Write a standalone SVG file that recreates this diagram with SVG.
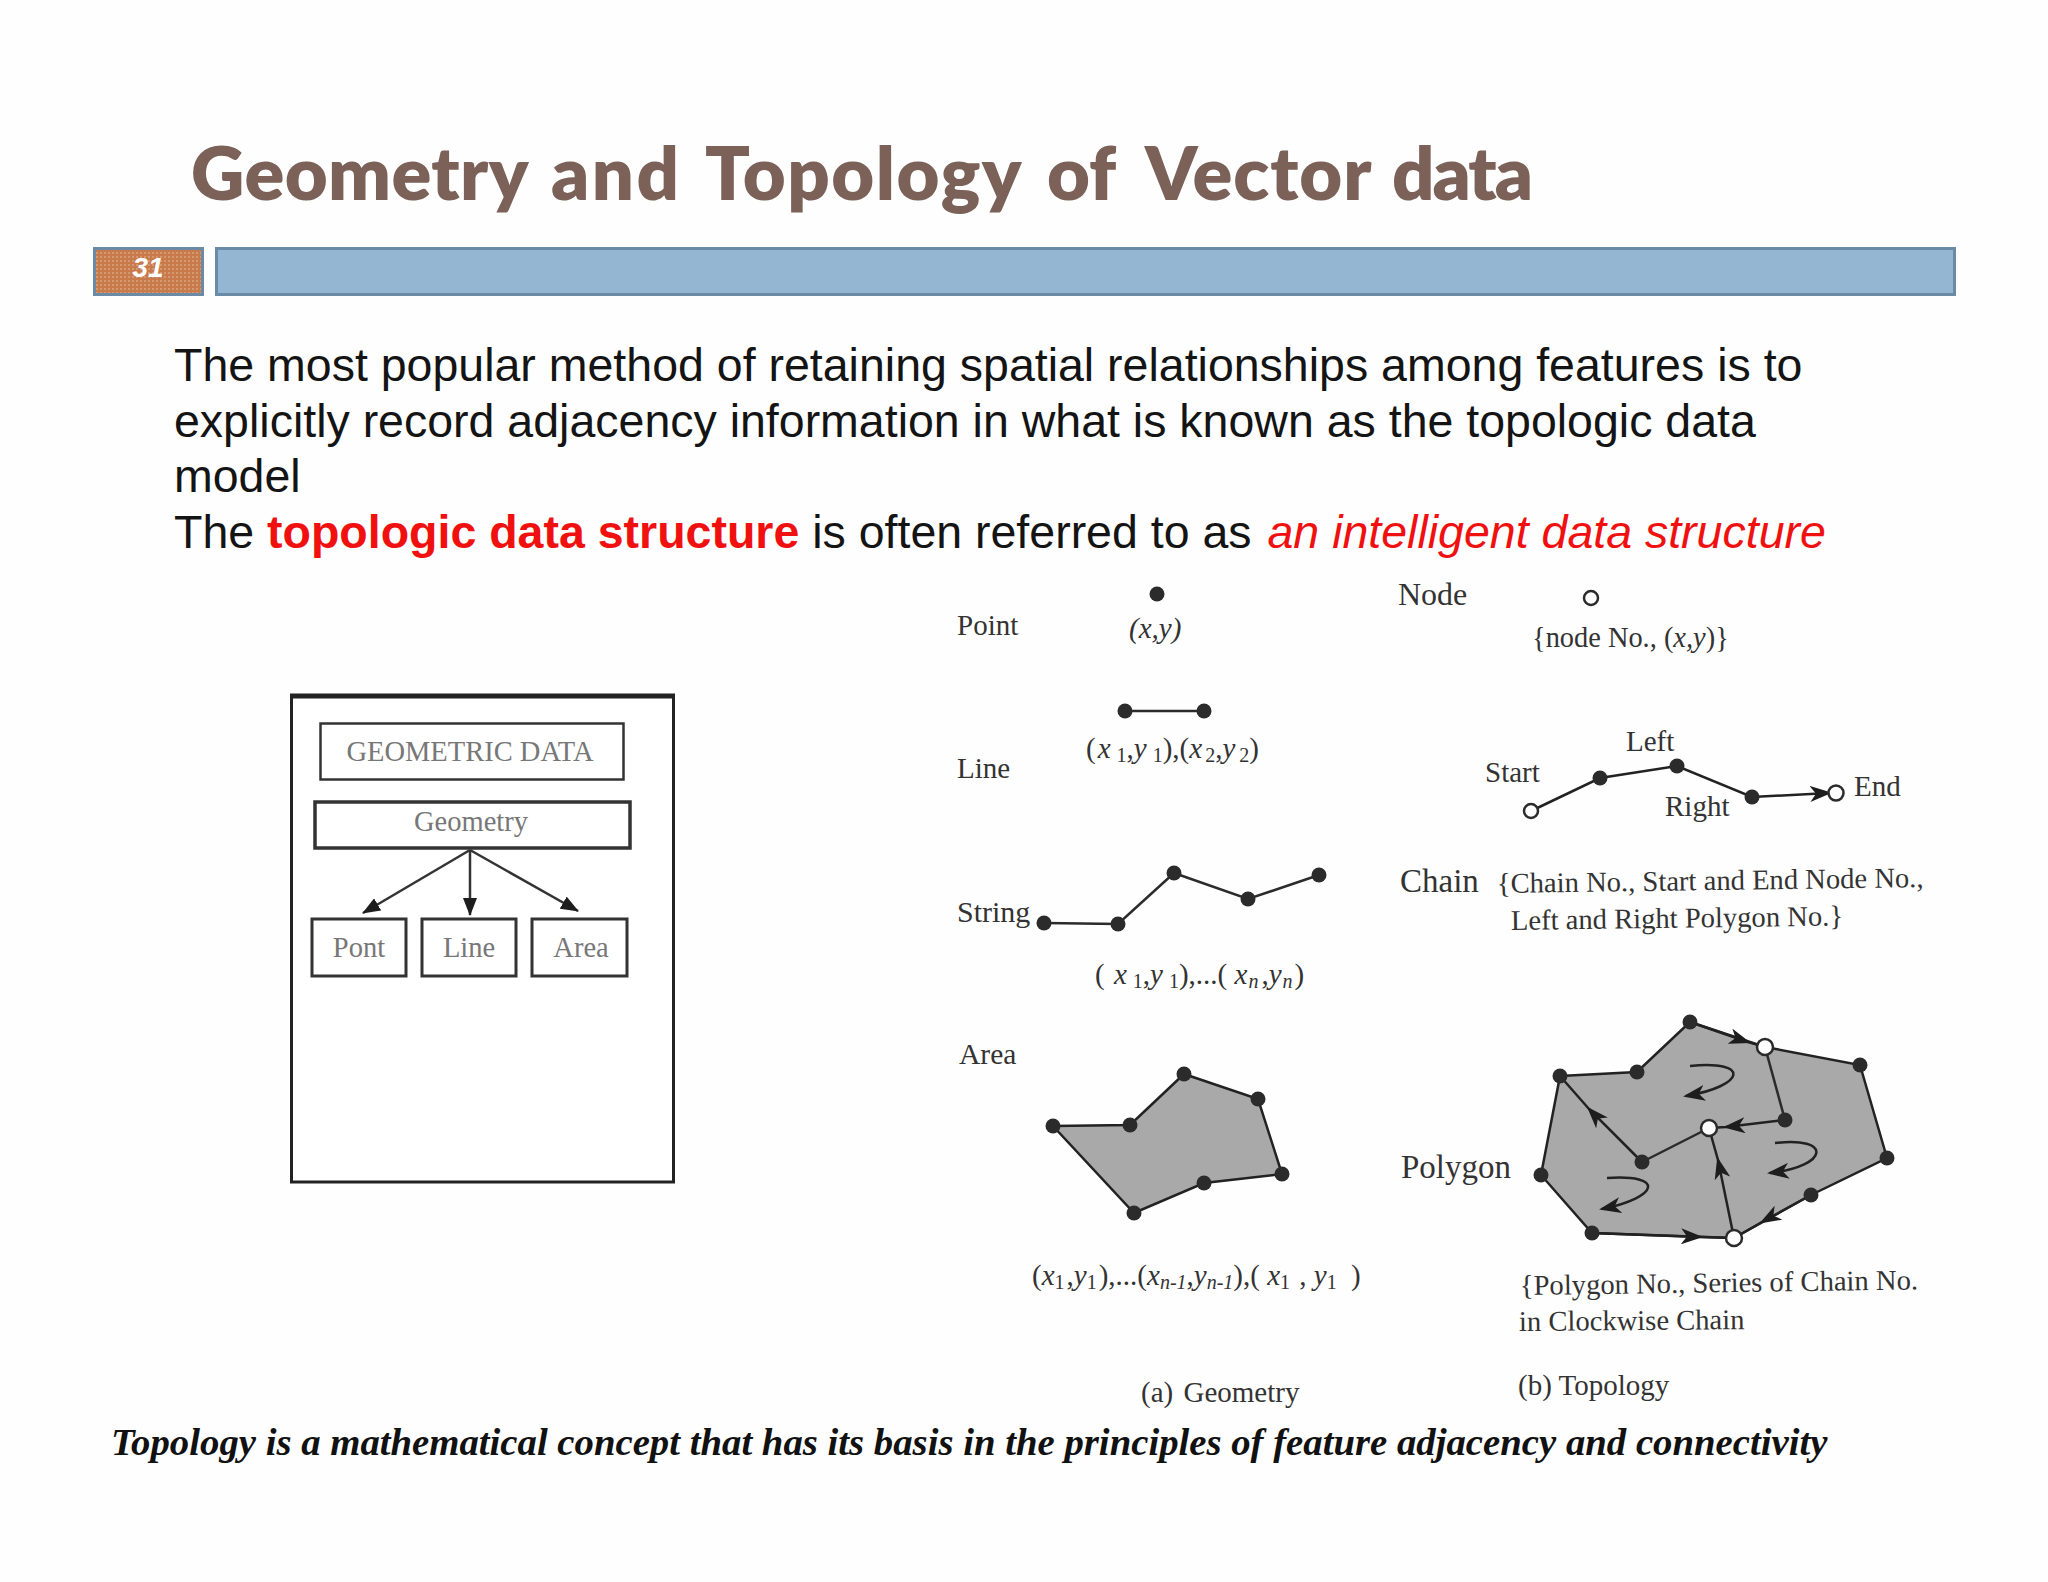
<svg xmlns="http://www.w3.org/2000/svg" width="2048" height="1582" viewBox="0 0 2048 1582">
<style>
.body{font-family:"Liberation Sans",Arial,sans-serif;font-size:46.5px;fill:#141414}
.t{font-family:"Liberation Serif","Times New Roman",serif;font-size:29px;fill:#333}
.b{font-size:33px}
.n{font-size:28.6px}
.i{font-style:italic}
.s{font-size:20px}
.bx{fill:#fff;stroke:#333}
.g{font-family:"Liberation Serif","Times New Roman",serif;font-size:28.5px;fill:#777;text-anchor:middle}
.d{fill:#2b2b2b}
.o{fill:#fff;stroke:#2b2b2b;stroke-width:2.5}
.w{fill:#fff;stroke:#2b2b2b;stroke-width:2.5}
.e{fill:none;stroke:#2b2b2b;stroke-width:2.5}
.a{fill:none;stroke:#222;stroke-width:2.5;marker-mid:url(#st)}
.c{fill:none;stroke:#222;stroke-width:2.5;marker-end:url(#st)}
.p{fill:#a9a9a9;stroke:#222;stroke-width:2.5}
.h{fill:none;stroke:#333;stroke-width:2.5;marker-end:url(#tri)}
</style>
<defs>
<marker id="st" viewBox="0 0 22 16" refX="19" refY="8" markerWidth="22" markerHeight="16" markerUnits="userSpaceOnUse" orient="auto"><path d="M0 0L22 8L0 16L6 8Z" fill="#1d1d1d"/></marker>
<marker id="tri" viewBox="0 0 18 14" refX="17" refY="7" markerWidth="18" markerHeight="14" markerUnits="userSpaceOnUse" orient="auto"><path d="M0 0L18 7L0 14Z" fill="#1d1d1d"/></marker>
<pattern id="tex" width="4" height="4" patternUnits="userSpaceOnUse"><rect width="4" height="4" fill="#c9794a"/><rect width="2" height="2" fill="#d29a72"/></pattern>
</defs>
<rect width="2048" height="1582" fill="#fefefe"/>
<g id="title"><text x="191" y="200" font-family="Lato,'Open Sans',sans-serif" font-weight="800" font-size="74" fill="#7b6158"><tspan letter-spacing="0.4">Geometry</tspan> <tspan x="551" letter-spacing="2.5">and</tspan> <tspan x="705" letter-spacing="1.5">Topology</tspan> <tspan x="1047">of</tspan> <tspan x="1145" letter-spacing="1">Vector</tspan> <tspan x="1392" letter-spacing="-2">data</tspan></text></g>
<g id="number-box"><rect x="94.500" y="248.500" width="108" height="46" fill="url(#tex)" stroke="#6a8aa6" stroke-width="3"/><text x="148" y="277" text-anchor="middle" font-family="'Liberation Sans',Arial,sans-serif" font-weight="700" font-style="italic" font-size="28" fill="#fff">31</text></g>
<g id="header-bar"><rect x="216.500" y="248.500" width="1738" height="46" fill="#94b6d2" stroke="#6a8aa6" stroke-width="3"/></g>
<g id="body-text">
<text class="body" x="174" y="381">The most popular method of retaining spatial relationships among features is to</text>
<text class="body" x="174" y="437">explicitly record adjacency information in what is known as the topologic data</text>
<text class="body" x="174" y="492">model</text>
<text class="body" x="174" y="548">The <tspan font-weight="700" fill="#f01010">topologic data structure</tspan> is often referred to as <tspan dx="3" font-style="italic" fill="#f01010">an intelligent data structure</tspan></text>
</g>
<g id="geometric-panel"><rect x="291.500" y="696" width="382" height="486" fill="#fff" stroke="#222" stroke-width="3"/><path d="M290 696H675" stroke="#222" stroke-width="5"/></g>
<g id="geometric-data"><rect class="bx" x="320.500" y="723.500" width="303" height="56" stroke-width="2.500"/><text class="g" x="470" y="761">GEOMETRIC DATA</text></g>
<g id="geometry"><rect class="bx" x="315" y="802" width="315" height="46" stroke="#555" stroke-width="3.500"/><text class="g" x="471" y="831">Geometry</text></g>
<g id="pont"><rect class="bx" x="312" y="919" width="94" height="57" stroke-width="3" stroke="#444"/><text class="g" x="359" y="957">Pont</text></g>
<g id="line"><rect class="bx" x="422" y="919" width="94" height="57" stroke-width="3" stroke="#444"/><text class="g" x="469" y="957">Line</text></g>
<g id="area"><rect class="bx" x="532" y="919" width="95" height="57" stroke-width="3" stroke="#444"/><text class="g" x="581" y="957">Area</text></g>
<g id="connectors">
<path class="h" d="M470 850L363 913"/><path class="h" d="M470 850V915"/><path class="h" d="M470 850L578 911"/>
</g>
<g id="geometry-labels">
<text class="t" x="957" y="635">Point</text>
<text class="t i" x="1129" y="638">(x,y)</text>
<text class="t" x="957" y="778">Line</text>
<text class="t" x="1086" y="758">(<tspan class="i" dx="2">x</tspan><tspan class="s" dx="6" dy="4">1</tspan><tspan dy="-4">,</tspan><tspan class="i">y</tspan><tspan class="s" dx="6" dy="4">1</tspan><tspan dy="-4">),(</tspan><tspan class="i">x</tspan><tspan class="s" dx="3" dy="4">2</tspan><tspan dy="-4">,</tspan><tspan class="i">y</tspan><tspan class="s" dx="4" dy="4">2</tspan><tspan dy="-4">)</tspan></text>
<text class="t" x="957" y="922" style="font-size:30px">String</text>
<text class="t" x="1095" y="984">( <tspan class="i" dx="2">x</tspan><tspan class="s" dx="6" dy="4">1</tspan><tspan dy="-4">,</tspan><tspan class="i">y</tspan><tspan class="s" dx="6" dy="4">1</tspan><tspan dy="-4">),...( </tspan><tspan class="i">x</tspan><tspan class="s i" dy="4" dx="1">n</tspan><tspan dy="-4" dx="3">,</tspan><tspan class="i">y</tspan><tspan class="s i" dy="4" dx="1">n</tspan><tspan dy="-4" dx="2">)</tspan></text>
<text class="t" x="959" y="1064" style="font-size:29.5px">Area</text>
<text class="t" x="1032" y="1285">(<tspan class="i">x</tspan><tspan class="s" dy="4">1</tspan><tspan dy="-4" dx="2">,</tspan><tspan class="i">y</tspan><tspan class="s" dy="4">1</tspan><tspan dy="-4" dx="2">),...(</tspan><tspan class="i">x</tspan><tspan class="s i" dy="4">n-1</tspan><tspan dy="-4">,</tspan><tspan class="i">y</tspan><tspan class="s i" dy="4">n-1</tspan><tspan dy="-4">),( </tspan><tspan class="i">x</tspan><tspan class="s" dy="4">1</tspan><tspan dy="-4" dx="2"> , </tspan><tspan class="i">y</tspan><tspan class="s" dy="4">1</tspan><tspan dy="-4" dx="7"> )</tspan></text>
<text class="t" x="1141" y="1402" word-spacing="3">(a)  Geometry</text>
</g>
<g id="point-shape"><circle class="d" cx="1157" cy="594" r="7.500"/></g>
<g id="line-shape"><path class="e" d="M1125 711H1204"/><circle class="d" cx="1125" cy="711" r="7.500"/><circle class="d" cx="1204" cy="711" r="7.500"/></g>
<g id="string-shape"><path class="e" d="M1044 923L1118 924L1174 873L1248 899L1319 875"/><circle class="d" cx="1044" cy="923" r="7.500"/><circle class="d" cx="1118" cy="924" r="7.500"/><circle class="d" cx="1174" cy="873" r="7.500"/><circle class="d" cx="1248" cy="899" r="7.500"/><circle class="d" cx="1319" cy="875" r="7.500"/></g>
<g id="area-shape"><path class="p" d="M1053 1126L1130 1125L1184 1074L1258 1099L1282 1174L1204 1183L1134 1213Z"/><circle class="d" cx="1053" cy="1126" r="7.500"/><circle class="d" cx="1130" cy="1125" r="7.500"/><circle class="d" cx="1184" cy="1074" r="7.500"/><circle class="d" cx="1258" cy="1099" r="7.500"/><circle class="d" cx="1282" cy="1174" r="7.500"/><circle class="d" cx="1204" cy="1183" r="7.500"/><circle class="d" cx="1134" cy="1213" r="7.500"/></g>
<g id="topology-labels">
<text class="t b" x="1398" y="605" style="font-size:32px">Node</text>
<text class="t n" x="1532" y="647" style="font-size:28.4px">{node No., (<tspan class="i">x,y</tspan>)}</text>
<text class="t" x="1485" y="782">Start</text>
<text class="t" x="1626" y="751">Left</text>
<text class="t" x="1665" y="816">Right</text>
<text class="t" x="1854" y="796">End</text>
<text class="t b" x="1400" y="892">Chain</text>
<text class="t n" transform="rotate(-0.8 1497 893)" x="1497" y="893">{Chain No., Start and End Node No.,</text>
<text class="t n" transform="rotate(-0.8 1511 930)" x="1511" y="930">Left and Right Polygon No.}</text>
<text class="t b" x="1401" y="1178">Polygon</text>
<text class="t n" transform="rotate(-0.8 1520 1295)" x="1520" y="1295">{Polygon No., Series of Chain No.</text>
<text class="t n" transform="rotate(-0.5 1519 1331)" x="1519" y="1331">in Clockwise Chain</text>
<text class="t" x="1518" y="1395">(b) Topology</text>
</g>
<g id="node-shape"><circle class="o" cx="1591" cy="598" r="7"/></g>
<g id="chain-shape"><path class="c" d="M1531 811L1600 778L1677 766L1752 797L1829 793"/><circle class="o" cx="1531" cy="811" r="7"/><circle class="d" cx="1600" cy="778" r="7.500"/><circle class="d" cx="1677" cy="766" r="7.500"/><circle class="d" cx="1752" cy="797" r="7.500"/><circle class="o" cx="1836" cy="793" r="7.500"/></g>
<g id="polygon-shape">
<path class="p" d="M1560 1076L1637 1072L1690 1022L1765 1047L1860 1065L1887 1158L1811 1195L1734 1238L1592 1233L1541 1175Z"/>
<path class="e" d="M1765 1047L1785 1120"/>
<path class="e" d="M1642 1162L1709 1128"/>
<path class="a" d="M1642 1162L1589 1109L1560 1076"/>
<path class="a" d="M1785 1120L1726 1127L1709 1128"/>
<path class="a" d="M1734 1238L1718 1160L1709 1128"/>
<path class="a" d="M1690 1022L1748 1042L1765 1047"/>
<path class="a" d="M1592 1233L1700 1237L1734 1238"/>
<path class="a" d="M1811 1195L1762 1222L1734 1238"/>
<path class="c" d="M1690 1066C1752 1060 1745 1086 1686 1096"/>
<path class="c" d="M1775 1143C1832 1136 1830 1166 1770 1173"/>
<path class="c" d="M1607 1178C1665 1174 1660 1197 1602 1209"/>
<circle class="d" cx="1560" cy="1076" r="7.500"/><circle class="d" cx="1637" cy="1072" r="7.500"/><circle class="d" cx="1690" cy="1022" r="7.500"/><circle class="d" cx="1860" cy="1065" r="7.500"/><circle class="d" cx="1887" cy="1158" r="7.500"/><circle class="d" cx="1811" cy="1195" r="7.500"/><circle class="d" cx="1592" cy="1233" r="7.500"/><circle class="d" cx="1541" cy="1175" r="7.500"/><circle class="d" cx="1785" cy="1120" r="7.500"/><circle class="d" cx="1642" cy="1162" r="7.500"/>
<circle class="w" cx="1765" cy="1047" r="8"/><circle class="w" cx="1709" cy="1128" r="8"/><circle class="w" cx="1734" cy="1238" r="8"/>
</g>
<g id="caption"><text x="111" y="1455" font-family="'Liberation Serif','Times New Roman',serif" font-weight="700" font-style="italic" font-size="38.750" fill="#111">Topology is a mathematical concept that has its basis in the principles of feature adjacency and connectivity</text></g>
</svg>
